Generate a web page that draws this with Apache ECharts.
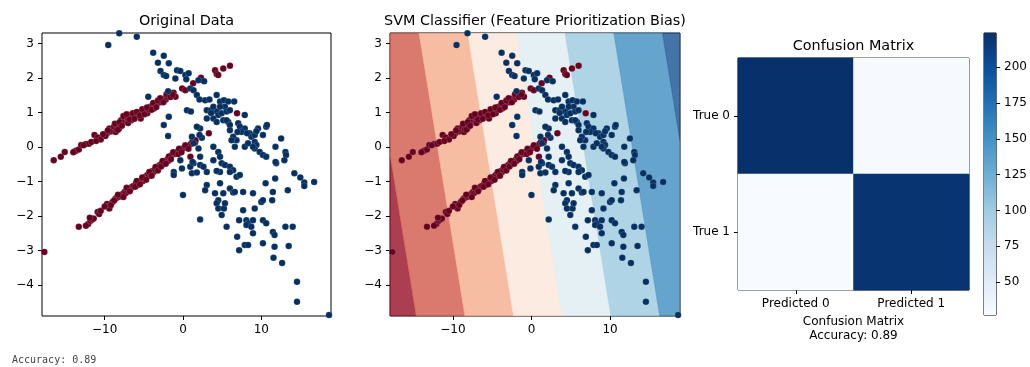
<!DOCTYPE html>
<html>
<head>
<meta charset="utf-8">
<script src="https://cdn.jsdelivr.net/npm/echarts@6.0.0/dist/echarts.min.js"></script>
<style>
html, body { margin: 0; padding: 0; background: #fff; }
#main { width: 1030px; height: 367px; }
</style>
</head>
<body>
<div id="main"></div>
<script>
// points: class 0 (red) and class 1 (blue)
var class0Points = [
  [-16.5,-0.38],[-15.6,-0.28],[-15.1,-0.14],[-13.8,-0.12],[-13.6,-0.1],[-13.3,-0.07],[-13.0,0.06],[-12.4,0.09],
  [-12.0,0.1],[-11.7,0.15],[-11.3,0.35],[-10.9,0.28],[-10.5,0.22],[-9.7,0.4],[-9.4,0.54],[-9.2,0.45],
  [-9.0,0.49],[-8.8,0.59],[-8.6,0.44],[-8.5,0.52],[-8.35,0.61],[-8.15,0.54],[-8.0,0.65],[-7.9,0.78],
  [-7.7,0.7],[-7.5,0.83],[-7.4,0.76],[-7.3,0.88],[-7.1,0.73],[-7.0,0.82],[-6.9,0.93],[-6.7,0.86],
  [-6.6,0.78],[-6.45,0.88],[-6.25,0.9],[-6.0,0.95],[-5.8,0.93],[-5.6,0.98],[-5.4,0.83],[-5.3,1.0],
  [-5.05,1.03],[-4.8,1.07],[-4.55,0.98],[-4.4,1.1],[-4.2,1.17],[-3.9,1.19],[-3.7,1.12],[-3.5,1.22],
  [-3.3,1.27],[-3.0,1.34],[-2.8,1.3],[-2.65,1.36],[-2.35,1.41],[-2.2,1.38],[-2.0,1.46],[-1.8,1.51],
  [-1.5,1.56],[-1.2,1.58],[-0.95,1.46],[-0.1,1.7],[0.3,1.65],[1.3,1.85],[2.2,1.96],[2.3,2.01],
  [4.1,2.23],[4.3,2.12],[4.5,2.09],[5.15,2.28],[6.0,2.36],
  [-8.7,0.68],[-8.3,0.5],[-8.1,0.72],[-7.8,0.62],[-7.6,0.9],[-7.2,0.95],[-7.0,0.7],[-6.8,0.8],
  [-6.4,0.98],[-6.2,0.82],[-5.9,1.02],[-5.5,0.92],[-5.2,1.1],[-4.9,0.95],[-4.6,1.15],[-4.0,1.08],
  [-3.8,1.28],[-3.4,1.16],[-3.2,1.35],[-2.9,1.42],[-2.5,1.3],[-2.1,1.53],[-1.6,1.45],[-1.3,1.52],
  [-11.1,0.18],[-9.9,0.32],[-9.6,0.48],[-10.2,0.37],[-12.7,0.05],[-14.0,-0.15],
  [-13.3,-2.31],[-12.1,-2.23],[-11.8,-2.14],[-11.6,-2.1],[-11.4,-2.07],[-10.9,-1.88],[-10.7,-1.94],[-9.7,-1.65],
  [-9.55,-1.72],[-9.4,-1.78],[-9.0,-1.59],[-8.6,-1.49],[-8.4,-1.46],[-8.15,-1.44],[-7.9,-1.42],[-7.7,-1.36],
  [-7.45,-1.3],[-7.3,-1.33],[-7.1,-1.25],[-6.9,-1.22],[-6.65,-1.2],[-6.5,-1.15],[-6.3,-1.13],[-6.0,-1.05],
  [-5.8,-1.1],[-5.6,-1.01],[-5.3,-0.96],[-5.1,-0.98],[-5.0,-0.91],[-4.8,-0.86],[-4.55,-0.81],[-4.4,-0.84],
  [-4.2,-0.76],[-3.9,-0.69],[-3.75,-0.72],[-3.6,-0.65],[-3.3,-0.57],[-3.1,-0.6],[-2.95,-0.52],[-2.7,-0.47],
  [-2.5,-0.5],[-2.35,-0.43],[-2.0,-0.36],[-1.9,-0.4],[-1.7,-0.3],[-1.4,-0.23],[-1.1,-0.18],[-0.9,-0.2],
  [-0.75,-0.14],[-0.35,-0.09],[0.0,-0.04],[0.5,0.01],[1.0,0.09],[1.55,0.13],[0.95,-0.28],
  [-12.4,-2.28],[-11.9,-2.05],[-10.5,-1.85],[-10.0,-1.72],[-9.2,-1.68],[-8.8,-1.55],[-8.3,-1.38],[-7.6,-1.45],
  [-7.2,-1.18],[-6.8,-1.28],[-6.1,-1.15],[-5.9,-0.98],[-5.5,-1.08],[-5.2,-0.88],[-4.7,-0.95],[-4.3,-0.72],
  [-4.0,-0.83],[-3.5,-0.58],[-3.2,-0.68],[-2.8,-0.56],[-2.6,-0.4],[-2.2,-0.48],[-1.8,-0.27],[-1.55,-0.35],
  [-1.25,-0.15],[-0.6,-0.2],[-0.5,-0.05],[-0.2,-0.15],[0.3,0.05],[0.7,-0.05],[1.2,0.15],[1.6,0.2],
  [-17.7,-3.04],[6.9,0.98],[3.3,0.4]
];
var class1Points = [
  [-8.14,3.3],[-5.9,3.2],[-9.54,2.96],[-3.8,2.74],[-2.45,2.65],[-3.2,2.45],[-1.81,2.43],[-2.87,2.21],
  [-2.45,2.09],[-2.15,2.06],[-0.76,2.23],[-0.34,2.21],[-0.97,1.99],[0.3,2.09],[0.72,2.14],[0.42,1.97],
  [1.98,1.94],[2.7,1.91],[-4.43,1.46],[-1.9,1.62],[0.93,1.7],[1.35,1.65],[1.77,1.51],[2.11,1.38],
  [2.83,1.36],[3.38,1.38],[4.3,1.51],[4.73,1.32],[5.23,1.36],[5.78,1.32],[6.54,1.32],[5.36,1.17],
  [4.73,1.17],[4.3,1.03],[4.51,0.93],[4.94,0.98],[5.57,1.03],[5.99,1.07],[3.04,1.07],[3.59,1.07],
  [0.51,1.07],[1.01,1.03],[-1.81,0.88],[-2.45,0.64],[-1.9,0.32],[3.04,0.83],[3.88,0.83],[4.3,0.73],
  [5.15,0.78],[5.78,0.73],[5.99,0.64],[7.05,0.69],[7.89,0.93],[7.26,0.59],[7.89,0.54],[7.47,0.44],
  [8.52,0.4],[9.58,0.54],[10.63,0.59],[10.72,0.64],[8.73,0.3],[9.16,0.35],[10.21,0.35],[9.16,0.15],
  [9.37,0.06],[9.16,-0.04],[9.79,-0.14],[10.21,-0.23],[10.63,-0.28],[11.81,0.01],[12.53,0.25],[13.08,-0.14],
  [13.16,-0.23],[12.95,-0.38],[11.9,-0.47],[11.81,-0.43],[6.84,0.2],[6.41,0.3],[6.2,0.2],[6.62,0.01],
  [7.89,0.01],[8.31,0.11],[2.19,0.54],[1.77,0.59],[1.14,0.3],[2.41,0.27],[1.35,0.11],[1.98,-0.04],
  [3.88,0.01],[4.51,-0.14],[4.73,-0.28],[3.88,-0.38],[4.94,-0.47],[5.36,-0.52],[5.99,-0.57],[6.41,-0.67],
  [5.99,-0.72],[4.73,-0.72],[4.3,-0.69],[3.04,-0.72],[2.19,-0.52],[1.35,-0.47],[0.93,-0.57],[-0.13,-0.62],
  [-1.18,-0.72],[-1.18,-0.81],[-0.34,-0.38],[2.19,-0.28],[6.84,-0.86],[7.26,-0.81],[3.04,-1.1],[2.83,-1.25],
  [4.73,-1.05],[4.09,-1.34],[5.15,-1.34],[5.99,-1.2],[6.41,-1.32],[6.62,-1.3],[7.68,-1.3],[8.94,-1.34],
  [10.55,-1.05],[11.77,-0.91],[13.38,-1.25],[11.48,-1.3],[11.39,-1.54],[10.0,-1.59],[10.21,-1.54],[9.16,-1.78],
  [7.68,-1.83],[4.51,-1.54],[4.3,-1.63],[4.51,-1.78],[5.23,-1.78],[5.36,-1.63],[4.94,-1.97],[7.17,-2.12],
  [8.1,-2.12],[8.31,-2.21],[8.94,-2.12],[8.1,-2.26],[8.73,-2.31],[8.94,-2.5],[10.21,-2.12],[10.63,-2.21],
  [11.48,-2.46],[11.69,-2.55],[13.08,-2.31],[14.01,-2.31],[6.92,-2.6],[7.17,-2.99],[7.89,-2.84],[8.31,-2.84],
  [10.21,-2.79],[11.69,-2.89],[13.5,-2.87],[11.56,-3.21],[12.66,-3.36],[2.19,-2.1],[0.0,-1.39],[5.57,-2.31],
  [14.56,-3.91],[14.56,-4.49],[18.65,-4.87],[14.22,-0.76],[14.98,-0.88],[15.49,-1.03],[15.49,-1.13],[16.75,-1.01],
  [3.88,1.17],[2.11,0.35],[3.59,0.99],[5.99,0.49],[5.57,0.78],[6.96,0.44],[9.37,0.46],[8.94,0.01],
  [8.18,0.4],[1.22,-0.43],[1.14,-0.76],[1.77,-0.74],[2.62,-0.57]
];
// confusion matrix: rows = true label, columns = predicted label
var confusion = [[224, 28], [27, 221]];
var predictedLabels = ['Predicted 0', 'Predicted 1'];
var trueLabels = ['True 0', 'True 1'];
var colorbarTicks = [50, 75, 100, 125, 150, 175, 200];
var xTicks = [-10, 0, 10];
var yTicks = [-4, -3, -2, -1, 0, 1, 2, 3];
// linear decision function f = w0*x + w1*y + b, filled between levels
var svmWeights = [0.1613, 0.1147];
var svmBias = -0.0694;
var contourLevels = [-4, -3, -2, -1, 0, 1, 2, 3, 4];
var xRange = [-18, 18.9];
var yRange = [-4.9, 3.31];

var RED = '#67001f', BLUE = '#053061';
var bandColors = ['#960f26', '#d15749', '#f5ac8b', '#fbe6d9', '#dfecf3', '#9ac9e0', '#3f8dc0', '#175290'];
var blues = ['#f7fbff', '#deebf7', '#c6dbef', '#9ecae1', '#6baed6', '#4292c6', '#2171b5', '#08519c', '#08306b'];
var FONT = 'DejaVu Sans';

var total = 0, correct = 0;
confusion.forEach(function (row, i) {
  row.forEach(function (v, j) { total += v; if (i === j) correct += v; });
});
var accuracy = (correct / total).toFixed(2);
var flat = [].concat.apply([], confusion);
var cmMin = Math.min.apply(null, flat), cmMax = Math.max.apply(null, flat);

var heatData = [];
confusion.forEach(function (row, i) {
  row.forEach(function (v, j) { heatData.push([j, i, v]); });
});

function minusFmt(v) { return String(v).replace('-', '\u2212'); }

// keep the part of poly where sign*(a*x + b*y + c) >= 0
function clipHalf(poly, a, b, c, sign) {
  var out = [];
  for (var i = 0; i < poly.length; i++) {
    var p = poly[i], q = poly[(i + 1) % poly.length];
    var fp = sign * (a * p[0] + b * p[1] + c);
    var fq = sign * (a * q[0] + b * q[1] + c);
    if (fp >= 0) out.push(p);
    if ((fp >= 0) !== (fq >= 0)) {
      var t = fp / (fp - fq);
      out.push([p[0] + t * (q[0] - p[0]), p[1] + t * (q[1] - p[1])]);
    }
  }
  return out;
}

function scatterAxes(gi) {
  return {
    x: {
      type: 'value', gridIndex: gi, min: xRange[0], max: xRange[1],
      axisLine: { show: false, onZero: false },
      axisTick: { show: true, length: 4, customValues: xTicks, lineStyle: { color: '#000', width: 1 } },
      axisLabel: { customValues: xTicks, formatter: minusFmt, color: '#000', fontSize: 12, margin: 8, fontFamily: FONT },
      splitLine: { show: false }
    },
    y: {
      type: 'value', gridIndex: gi, min: yRange[0], max: yRange[1],
      axisLine: { show: false, onZero: false },
      axisTick: { show: true, length: 4, customValues: yTicks, lineStyle: { color: '#000', width: 1 } },
      axisLabel: { customValues: yTicks, formatter: minusFmt, color: '#000', fontSize: 12, margin: 8, fontFamily: FONT },
      splitLine: { show: false }
    }
  };
}

function pointSeries(gi, pts, color) {
  return {
    type: 'scatter', xAxisIndex: gi, yAxisIndex: gi, data: pts,
    symbolSize: 6.5, z: 3,
    itemStyle: { color: color, borderColor: 'rgba(255,255,255,0.3)', borderWidth: 0.5, opacity: 1 }
  };
}

var a1 = scatterAxes(0), a2 = scatterAxes(1);

var myChart = echarts.init(document.getElementById('main'));
var option = {
  animation: false,
  textStyle: { fontFamily: FONT },
  grid: [
    { left: 42, top: 33, width: 289, height: 283, show: true, borderColor: '#000', borderWidth: 1, backgroundColor: '#fff' },
    { left: 390, top: 33, width: 290, height: 283, show: true, borderColor: '#000', borderWidth: 1 },
    { left: 738, top: 58, width: 231, height: 232, show: true, borderColor: '#000', borderWidth: 1 },
    { left: 984, top: 33, width: 13, height: 282, show: true, borderColor: '#000', borderWidth: 1 }
  ],
  xAxis: [
    a1.x, a2.x,
    {
      type: 'category', gridIndex: 2, data: predictedLabels,
      axisLine: { show: false, onZero: false },
      axisTick: { show: true, alignWithLabel: true, length: 4, lineStyle: { color: '#000' } },
      axisLabel: { color: '#000', fontSize: 12, margin: 8, fontFamily: FONT },
      name: 'Confusion Matrix\nAccuracy: ' + accuracy,
      nameLocation: 'middle', nameGap: 24,
      nameTextStyle: { color: '#000', fontSize: 12, lineHeight: 14, fontFamily: FONT, verticalAlign: 'top' }
    },
    { type: 'value', gridIndex: 3, min: 0, max: 1, show: false }
  ],
  yAxis: [
    a1.y, a2.y,
    {
      type: 'category', gridIndex: 2, data: trueLabels, inverse: true,
      axisLine: { show: false, onZero: false },
      axisTick: { show: true, alignWithLabel: true, length: 4, lineStyle: { color: '#000' } },
      axisLabel: { color: '#000', fontSize: 12, margin: 8, fontFamily: FONT }
    },
    {
      type: 'value', gridIndex: 3, position: 'right', min: cmMin, max: cmMax,
      axisLine: { show: false, onZero: false },
      axisTick: { show: true, length: 4, customValues: colorbarTicks, lineStyle: { color: '#000' } },
      axisLabel: { customValues: colorbarTicks, color: '#000', fontSize: 12, margin: 8, fontFamily: FONT },
      splitLine: { show: false }
    }
  ],
  visualMap: {
    show: false, seriesIndex: 5, min: cmMin, max: cmMax, dimension: 2,
    inRange: { color: blues }
  },
  graphic: [
    { type: 'text', x: 186.5, y: 21, style: { text: 'Original Data', font: '14.4px "DejaVu Sans"', fill: '#000', align: 'center', verticalAlign: 'middle' } },
    { type: 'text', x: 535, y: 21, style: { text: 'SVM Classifier (Feature Prioritization Bias)', font: '14.4px "DejaVu Sans"', fill: '#000', align: 'center', verticalAlign: 'middle' } },
    { type: 'text', x: 853.5, y: 46, style: { text: 'Confusion Matrix', font: '14.4px "DejaVu Sans"', fill: '#000', align: 'center', verticalAlign: 'middle' } },
    { type: 'text', x: 12, y: 360, style: { text: 'Accuracy: ' + accuracy, font: '10px "DejaVu Sans Mono"', fill: '#444', align: 'left', verticalAlign: 'middle' } }
  ],
  series: [
    pointSeries(0, class0Points, RED),
    pointSeries(0, class1Points, BLUE),
    {
      type: 'custom', xAxisIndex: 1, yAxisIndex: 1, z: 1, clip: true,
      data: contourLevels.slice(0, -1).map(function (l, i) { return [i]; }),
      encode: { x: -1, y: -1 },
      renderItem: function (params, api) {
        var k = api.value(0);
        var poly = [[xRange[0], yRange[0]], [xRange[1], yRange[0]], [xRange[1], yRange[1]], [xRange[0], yRange[1]]];
        poly = clipHalf(poly, svmWeights[0], svmWeights[1], svmBias - contourLevels[k], 1);
        poly = clipHalf(poly, svmWeights[0], svmWeights[1], svmBias - contourLevels[k + 1], -1);
        if (poly.length < 3) return;
        return {
          type: 'polygon',
          shape: { points: poly.map(function (p) { return api.coord(p); }) },
          style: { fill: bandColors[k], stroke: bandColors[k], lineWidth: 0.5, opacity: 0.8 }
        };
      }
    },
    pointSeries(1, class0Points, RED),
    pointSeries(1, class1Points, BLUE),
    {
      type: 'heatmap', xAxisIndex: 2, yAxisIndex: 2, data: heatData,
      label: { show: false }
    },
    {
      type: 'custom', xAxisIndex: 3, yAxisIndex: 3, data: [[0]],
      encode: { x: -1, y: -1 },
      renderItem: function (params, api) {
        var cs = params.coordSys;
        return {
          type: 'rect',
          shape: { x: cs.x, y: cs.y, width: cs.width, height: cs.height },
          style: {
            fill: new echarts.graphic.LinearGradient(0, 1, 0, 0, blues.map(function (c, i) {
              return { offset: i / (blues.length - 1), color: c };
            }))
          }
        };
      }
    }
  ]
};
myChart.setOption(option);
</script>
</body>
</html>
